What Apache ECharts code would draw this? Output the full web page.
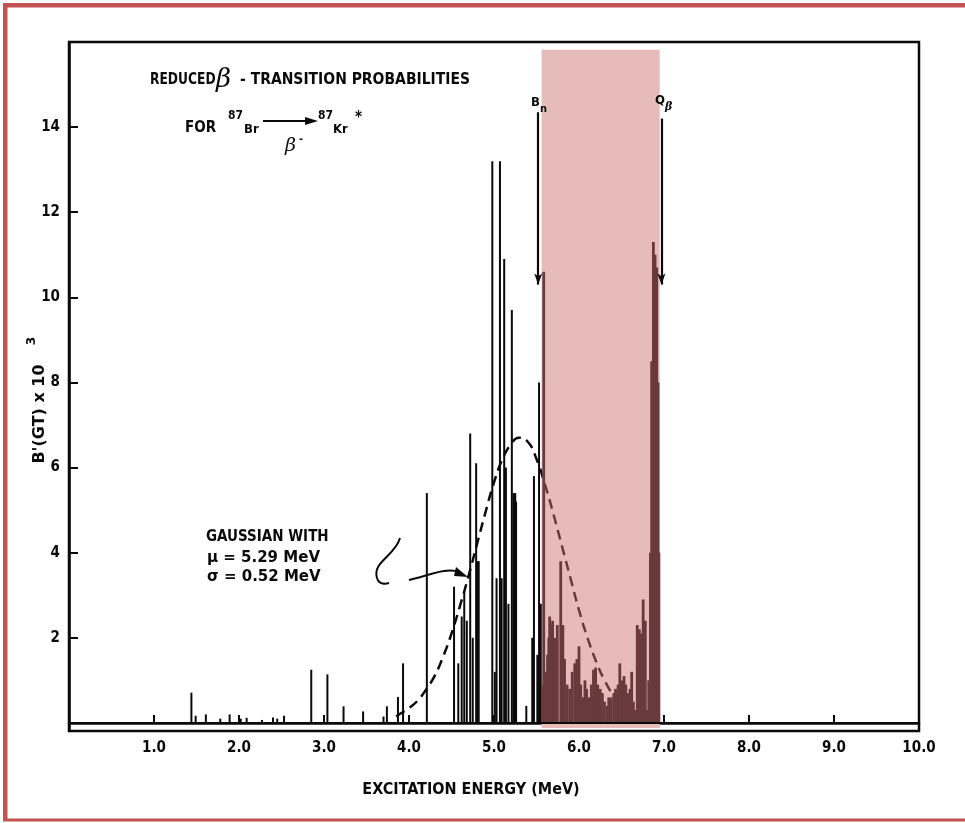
<!DOCTYPE html>
<html><head><meta charset="utf-8">
<script src="https://cdn.jsdelivr.net/npm/echarts@6/dist/echarts.min.js"></script>
<style>html,body{margin:0;padding:0;background:#fff}#c{width:965px;height:823px}</style>
</head><body><div id="c"></div>
<script>
// ---------- data ----------
// discrete levels below the neutron binding energy (MeV, B'(GT) x 10^3)
const lineEnergies  = [1.44,1.49,1.61,1.78,1.89,2.02,2.09,2.27,2.40,2.45,2.53,2.85,3.04,3.23,3.46,3.70,3.74,3.87,3.93,
                       4.21,4.53,4.58,4.62,4.65,4.68,4.72,4.75,4.79,4.81,4.82,4.98,5.01,5.03,5.07,5.09,5.12,5.14,5.17,
                       5.21,5.23,5.24,5.25,5.26,5.38,5.45,5.47,5.51,5.53,5.55];
const lineStrengths = [0.71,0.17,0.20,0.10,0.20,0.10,0.12,0.07,0.13,0.10,0.17,1.25,1.14,0.39,0.27,0.15,0.39,0.61,1.40,
                       5.40,3.20,1.40,2.50,3.10,2.40,6.80,2.00,6.10,3.80,3.80,13.2,1.20,3.40,13.2,3.40,10.9,6.00,2.80,
                       9.70,5.40,5.40,5.40,5.20,0.40,2.00,5.80,1.60,8.00,2.80];
// quasi-continuum above B_n (inside the shaded band)
const bandEnergies  = [5.57,5.585,5.60,5.615,5.63,5.645,5.655,5.675,5.69,5.72,5.745,5.785,5.81,5.83,5.86,5.89,5.92,5.95,5.975,
                       6.00,6.02,6.05,6.07,6.09,6.12,6.145,6.17,6.195,6.22,6.25,6.275,6.30,6.33,6.35,6.38,6.41,6.43,6.46,
                       6.48,6.505,6.53,6.55,6.58,6.60,6.62,6.64,6.66,6.685,6.71,6.73,6.755,6.78,6.80,6.82,6.84,6.855,
                       6.875,6.895,6.915,6.93,6.94];
const bandStrengths = [0.9,10.6,1.0,1.2,1.6,2.0,2.5,2.3,2.4,2.0,2.3,3.8,2.3,1.5,0.9,0.8,1.2,1.4,1.5,
                       1.8,0.9,0.6,1.0,0.8,0.6,0.9,1.25,1.3,0.9,0.8,0.7,0.5,0.4,0.6,0.6,0.7,0.8,0.9,
                       1.4,1.0,1.1,0.9,0.7,0.8,1.2,0.5,0.3,2.3,2.2,2.1,2.9,2.4,0.3,1.0,4.0,8.5,
                       11.3,11.0,10.7,8.0,4.0];
// dashed Gaussian (mu = 5.29 MeV, sigma = 0.52 MeV)
const gaussEnergy = [3.85,3.90,4.00,4.10,4.20,4.30,4.40,4.50,4.60,4.70,4.80,4.90,5.00,5.10,5.20,5.29,5.40,5.50,5.60,
                     5.70,5.80,5.90,6.00,6.10,6.20,6.30,6.40];
const gaussValue  = [0.15,0.22,0.35,0.52,0.78,1.10,1.55,2.10,2.75,3.45,4.20,4.95,5.65,6.20,6.55,6.70,6.60,6.20,5.60,
                     4.90,4.15,3.40,2.65,2.00,1.45,1.00,0.65];
const bandRange = [5.56, 6.95];          // shaded region B_n .. Q_beta (MeV)
const bandHeight = [-0.12, 15.82];        // vertical extent of shading
const bnEnergy = 5.52, qbEnergy = 6.97;   // marker positions
const markerSpan = [14.35, 10.3];         // arrows from / to
const xTickValues = [1,2,3,4,5,6,7,8,9,10];
const xTickLabels = ['1.0','2.0','3.0','4.0','5.0','6.0','7.0','8.0','9.0','10.0'];
const yTickValues = [2,4,6,8,10,12,14];
const yTickLabels = ['2','4','6','8','10','12','14'];

// ---------- chart ----------
const chart = echarts.init(document.getElementById('c'), null, {renderer:'canvas'});
const BLACK = '#0a0a0a', MAROON = '#693a3c', PINK = '#e8bbbb', RED = '#c45252';
const COND = '"DejaVu Sans Condensed", "DejaVu Sans", sans-serif';
const SANS = '"DejaVu Sans", sans-serif';

function stick(color, width){
  return function(params, api){
    const x = api.value(0), v = api.value(1);
    const p0 = api.coord([x, 0]), p1 = api.coord([x, v]);
    return {type:'line', shape:{x1:p0[0], y1:p0[1], x2:p1[0], y2:p1[1]},
            style:{stroke:color, lineWidth:width}};
  };
}

const option = {
  animation:false,
  backgroundColor:'#fff',
  grid:{left:69, right:46, top:42, bottom:92, show:true, borderColor:BLACK, borderWidth:2.5, backgroundColor:'transparent'},
  xAxis:{type:'value', min:0, max:10, interval:1,
    axisLine:{show:true, lineStyle:{color:BLACK, width:2.5}},
    axisTick:{show:true, inside:true, length:8, customValues:xTickValues, lineStyle:{color:BLACK, width:2}},
    axisLabel:{show:true, customValues:xTickValues, margin:10, color:BLACK, fontFamily:COND, fontWeight:'bold', fontSize:15,
      formatter:v=>xTickLabels[xTickValues.indexOf(v)]},
    splitLine:{show:false}},
  yAxis:{type:'value', min:-0.19, max:16,
    axisLine:{show:true, lineStyle:{color:BLACK, width:2.5}},
    axisTick:{show:true, inside:true, length:9, customValues:yTickValues, lineStyle:{color:BLACK, width:2}},
    axisLabel:{show:true, customValues:yTickValues, margin:9, color:BLACK, fontFamily:COND, fontWeight:'bold', fontSize:15,
      formatter:v=>yTickLabels[yTickValues.indexOf(v)]},
    splitLine:{show:false}},
  visualMap:{type:'piecewise', show:false, dimension:0, seriesIndex:3,
    pieces:[{lt:bandRange[0], color:BLACK},{gte:bandRange[0], lte:bandRange[1], color:MAROON},{gt:bandRange[1], color:BLACK}]},
  series:[
    {type:'custom', z:1, silent:true, data:[[bandRange[0], bandRange[1]]],
      renderItem:(params, api)=>{
        const a = api.coord([api.value(0), bandHeight[1]]);
        const b = api.coord([api.value(1), bandHeight[0]]);
        return {type:'rect', shape:{x:a[0], y:a[1], width:b[0]-a[0], height:b[1]-a[1]}, style:{fill:PINK}};
      }},
    {type:'custom', z:2, silent:true, data:lineEnergies.map((e,i)=>[e, lineStrengths[i]]), renderItem:stick(BLACK, 2)},
    {type:'custom', z:2, silent:true, data:bandEnergies.map((e,i)=>[e, bandStrengths[i]]), renderItem:stick(MAROON, 2.8)},
    {type:'line', z:3, silent:true, smooth:true, symbol:'none', data:gaussEnergy.map((e,i)=>[e, gaussValue[i]]),
      lineStyle:{width:2.5, type:[10,6]}},
    {type:'line', z:4, silent:true, symbol:'none', data:[],
      markLine:{silent:true, animation:false, label:{show:false},
        lineStyle:{color:BLACK, width:2.2, type:'solid'},
        symbol:['none','triangle'], symbolSize:[7,12],
        data:[
          [{coord:[bnEnergy, markerSpan[0]], symbol:'none'}, {coord:[bnEnergy, markerSpan[1]], symbol:'arrow', symbolSize:[6,11]}],
          [{coord:[qbEnergy, markerSpan[0]-0.15], symbol:'none'}, {coord:[qbEnergy, markerSpan[1]], symbol:'arrow', symbolSize:[6,11]}],
          [{coord:[0, 0], symbol:'none'}, {coord:[10, 0], symbol:'none'}]
        ]}}
  ]
};
chart.setOption(option);

function txt(x, y, s, font, align, sx){
  return {type:'text', x:x, y:y, z:100, silent:true, scaleX:sx||1,
    style:{text:s, font:font, fill:BLACK, textAlign:align||'left', align:align||'left', textVerticalAlign:'middle', verticalAlign:'middle'}};
}
const g = [
  // outer frame of the figure
  {type:'rect', z:200, shape:{x:3, y:3, width:962, height:4.5}, style:{fill:RED}},
  {type:'rect', z:200, shape:{x:3, y:3, width:4.5, height:818}, style:{fill:RED}},
  {type:'rect', z:200, shape:{x:3, y:818.5, width:962, height:3}, style:{fill:RED}},
  // title
  txt(150, 80, 'REDUCED', 'bold 15.5px ' + COND, 'left', 0.88),
  txt(216, 80, 'β', 'italic 26px "DejaVu Serif", serif'),
  txt(240, 80, '- TRANSITION PROBABILITIES', 'bold 15.5px ' + COND),
  txt(185, 128, 'FOR', 'bold 15px ' + COND),
  txt(228, 116, '87', 'bold 12px ' + COND),
  txt(244, 130, 'Br', 'bold 13px ' + COND),
  {type:'line', z:100, shape:{x1:263, y1:121, x2:310, y2:121}, style:{stroke:BLACK, lineWidth:2}},
  {type:'polygon', z:100, shape:{points:[[305,117],[318,121],[305,125]]}, style:{fill:BLACK}},
  txt(318, 116, '87', 'bold 12px ' + COND),
  txt(333, 130, 'Kr', 'bold 13px ' + COND),
  txt(355, 118, '*', 'bold 15px ' + COND),
  txt(285, 146, 'β', 'italic 19px "DejaVu Serif", serif'),
  txt(299, 139, '-', 'bold 11px ' + COND),
  // markers
  txt(531, 103, 'B', 'bold 13px ' + COND),
  txt(540, 109, 'n', 'bold 11px ' + COND),
  txt(655, 101, 'Q', 'bold 13px ' + COND),
  txt(665, 107, 'β', 'italic bold 11px "DejaVu Serif", serif'),
  // gaussian annotation
  txt(206, 537, 'GAUSSIAN WITH', 'bold 15px ' + COND),
  txt(207, 558, 'μ = 5.29 MeV', 'bold 15px ' + SANS),
  txt(207, 577, 'σ = 0.52 MeV', 'bold 15px ' + SANS),
  {type:'bezierCurve', z:100, shape:{x1:400, y1:538, cpx1:395, cpy1:556, cpx2:372, cpy2:562, x2:377, y2:578}, style:{stroke:BLACK, lineWidth:2, fill:null}},
  {type:'bezierCurve', z:100, shape:{x1:377, y1:578, cpx1:379, cpy1:585, cpx2:386, cpy2:584, x2:389, y2:583}, style:{stroke:BLACK, lineWidth:2, fill:null}},
  {type:'bezierCurve', z:100, shape:{x1:409, y1:580, cpx1:430, cpy1:575, cpx2:447, cpy2:567, x2:459, y2:572}, style:{stroke:BLACK, lineWidth:2, fill:null}},
  {type:'polygon', z:100, shape:{points:[[456,567],[468,577],[454,576]]}, style:{fill:BLACK}},
  // axis titles
  txt(471, 790, 'EXCITATION ENERGY (MeV)', 'bold 16px ' + COND, 'center'),
  {type:'text', z:100, x:40, y:414, rotation:Math.PI/2, silent:true,
    style:{text:"B'(GT) x 10", font:'bold 16px ' + SANS, fill:BLACK, textAlign:'center', align:'center', textVerticalAlign:'middle', verticalAlign:'middle'}},
  {type:'text', z:100, x:32, y:341, rotation:Math.PI/2, silent:true,
    style:{text:'3', font:'bold 12px ' + SANS, fill:BLACK, textAlign:'center', align:'center', textVerticalAlign:'middle', verticalAlign:'middle'}}
];
chart.setOption({graphic:g});
</script>
</body></html>
